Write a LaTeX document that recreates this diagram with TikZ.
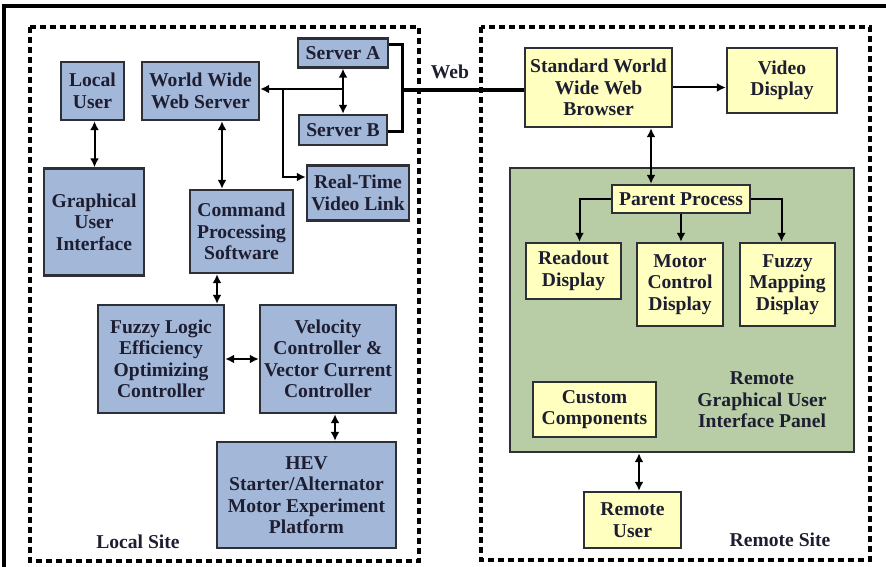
\documentclass[tikz,border=0pt]{standalone}
\usepackage{fontspec}
\setmainfont{Liberation Serif}
\usepackage{tikz}
\usetikzlibrary{arrows.meta}
\definecolor{boxblue}{RGB}{163,184,216}
\definecolor{boxyellow}{RGB}{255,255,192}
\definecolor{panelgreen}{RGB}{184,204,166}
\definecolor{edgegray}{RGB}{45,48,55}
\definecolor{inkblue}{RGB}{30,30,50}

\begin{document}
\begin{tikzpicture}[x=1pt,y=-1pt,
  font=\fontsize{19.6}{21.5}\selectfont\bfseries,
  blubox/.style={draw=edgegray,line width=2.4pt,fill=boxblue,align=center,inner sep=1pt,text=inkblue},
  yelbox/.style={draw=edgegray,line width=2.4pt,fill=boxyellow,align=center,inner sep=1pt,text=inkblue},
  link/.style={line width=2pt,draw=black},
  dbl/.style={link,{Latex[length=9pt,width=9pt]}-{Latex[length=9pt,width=9pt]}},
  one/.style={link,-{Latex[length=9pt,width=9pt]}},
  sitebox/.style={line width=3.5pt,dash pattern=on 6pt off 4pt}]
\useasboundingbox (0,0) rectangle (886,567);

% Frame and sites
\draw[line width=4pt] (4,567) -- (4,6) -- (886,6);
\draw[sitebox] (30,27) rectangle (419,561);
\draw[sitebox] (481,27) rectangle (870,560);
\node[text=inkblue] (localsite) at (138,542) {Local Site};
\node[text=inkblue] (remotesite) at (780,540) {Remote Site};

% Local site
\node[blubox,minimum width=63,minimum height=58] (localuser) at (92.5,91) {Local\\User};
\node[blubox,minimum width=117,minimum height=58] (wwwserver) at (200.5,91) {World Wide\\Web Server};
\node[blubox,minimum width=90,minimum height=29] (servera) at (343,53) {Server A};
\node[blubox,minimum width=88,minimum height=30] (serverb) at (343,130) {Server B};
\node[blubox,minimum width=102,minimum height=55] (videolink) at (358,193) {Real-Time\\Video Link};
\node[blubox,minimum width=100,minimum height=107] (gui) at (94,222) {Graphical\\User\\Interface};
\node[blubox,minimum width=103,minimum height=83] (command) at (241.5,231.5) {Command\\Processing\\Software};
\node[blubox,minimum width=126,minimum height=108] (fuzzylogic) at (161,359) {Fuzzy Logic\\Efficiency\\Optimizing\\Controller};
\node[blubox,minimum width=136,minimum height=108] (velocity) at (328,359) {Velocity\\Controller \&\\Vector Current\\Controller};
\node[blubox,minimum width=179,minimum height=106] (hev) at (306.5,495) {HEV\\Starter/Alternator\\Motor Experiment\\Platform};

% Remote site
\node[yelbox,minimum width=147,minimum height=79] (browser) at (598.5,87.5) {Standard World\\Wide Web\\Browser};
\node[yelbox,minimum width=110,minimum height=65] (videodisp) at (782,80.5) {Video\\Display};
\node[draw=edgegray,line width=2.4pt,fill=panelgreen,minimum width=344,minimum height=284] (panel) at (682,310) {};
\node[text=inkblue,align=center] (panellabel) at (762,400) {Remote\\Graphical User\\Interface Panel};
\node[yelbox,minimum width=138,minimum height=28] (parent) at (681,199) {Parent Process};
\node[yelbox,minimum width=95,minimum height=56] (readout) at (573.5,271) {Readout\\Display};
\node[yelbox,minimum width=86,minimum height=83] (motor) at (680,284.5) {Motor\\Control\\Display};
\node[yelbox,minimum width=95,minimum height=83] (fuzzymap) at (787.5,284.5) {Fuzzy\\Mapping\\Display};
\node[yelbox,minimum width=123,minimum height=55] (custom) at (594.5,409.5) {Custom\\Components};
\node[yelbox,minimum width=97,minimum height=56] (remoteuser) at (632.5,520) {Remote\\User};

% Server links
\coordinate (hub) at (343,89);
\coordinate (tap) at (283,89);
\coordinate (webjoin) at (402,90);
\draw[one] (hub) -- (hub -| wwwserver.east);
\draw[dbl] (servera) -- (serverb);
\draw[one] (tap) |- ([yshift=16pt]videolink.west);
\draw[line width=3pt] ([yshift=8pt]servera.east) -| (webjoin) |- ([yshift=-2pt]serverb.east);
\draw[line width=3.5pt] (webjoin) -- (webjoin -| browser.west);
\node[text=inkblue] (web) at (450,72) {Web};

% Local links
\draw[dbl] ([xshift=2pt]localuser.south) -- ([xshift=2pt]localuser.south |- gui.north);
\draw[dbl] ([xshift=21.5pt]wwwserver.south) -- ([xshift=21.5pt]wwwserver.south |- command.north);
\draw[dbl] ([xshift=-24.5pt]command.south) -- ([xshift=-24.5pt]command.south |- fuzzylogic.north);
\draw[dbl] (fuzzylogic) -- (velocity);
\draw[dbl] ([xshift=7pt]velocity.south) -- ([xshift=7pt]velocity.south |- hev.north);

% Remote links
\draw[one] (browser.east) -- (browser.east -| videodisp.west);
\draw[dbl] ([xshift=-30pt]parent.north |- browser.south) -- ([xshift=-30pt]parent.north);
\draw[one] (parent.west) -| ([xshift=6pt]readout.north);
\draw[one] (parent.south) -- (parent.south |- motor.north);
\draw[one] (parent.east) -| ([xshift=-6pt]fuzzymap.north);
\draw[dbl] ([xshift=6.5pt]remoteuser.north |- panel.south) -- ([xshift=6.5pt]remoteuser.north);
\end{tikzpicture}
\end{document}
